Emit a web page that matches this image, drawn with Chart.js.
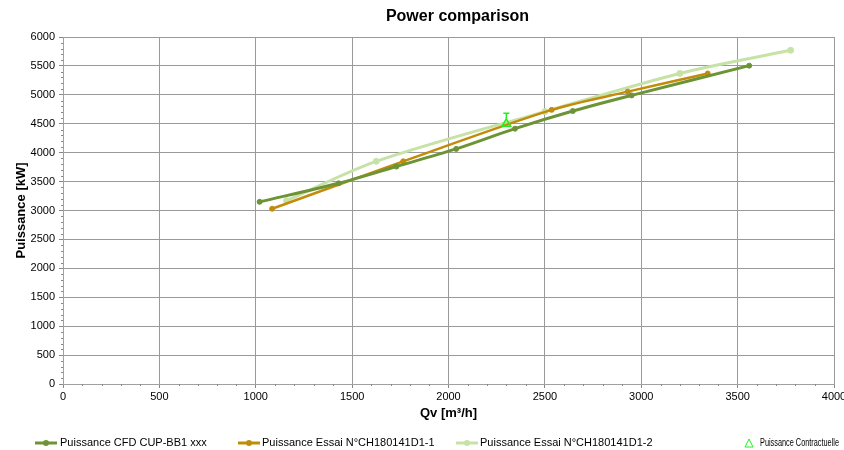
<!DOCTYPE html>
<html>
<head>
<meta charset="utf-8">
<script src="https://cdn.jsdelivr.net/npm/chart.js@4/dist/chart.umd.min.js"></script>
<style>
html,body{margin:0;padding:0;background:#fff;}
#wrap{position:relative;width:844px;height:450px;}
</style>
</head>
<body>
<div id="wrap"><canvas id="c" width="844" height="450"></canvas></div>
<script>
// ---- data ----
const cfdQv    = [1020, 1430, 1730, 2040, 2345, 2645, 2950, 3560];
const cfdP     = [3150, 3470, 3760, 4065, 4415, 4720, 4990, 5505];
const essai1Qv = [1085, 1765, 2535, 2930, 3345];
const essai1P  = [3030, 3850, 4740, 5055, 5370];
const essai2Qv = [1160, 1625, 2500, 3200, 3775];
const essai2P  = [3170, 3850, 4710, 5370, 5770];
const contrQv  = [2300];
const contrP   = [4500];
const contrErrTop = [4680];
const xTicks = [0,500,1000,1500,2000,2500,3000,3500,4000];
const yTicks = [0,500,1000,1500,2000,2500,3000,3500,4000,4500,5000,5500,6000];
const seriesNames = ['Puissance CFD CUP-BB1 xxx','Puissance Essai N°CH180141D1-1','Puissance Essai N°CH180141D1-2','Puissance Contractuelle'];

const pts = (xs, ys) => xs.map((x,i)=>({x:x,y:ys[i]}));
const FONT = '"Liberation Sans", Arial, sans-serif';

const colCFD = '#6c9436', colE1 = '#c28c0a', colE2 = '#c6e2a6', colC = '#22ee22';

const minorTicks = {
  id:'minorTicks',
  afterDraw(chart){
    const ctx = chart.ctx, xs = chart.scales.x, ys = chart.scales.y, a = chart.chartArea;
    ctx.save();
    ctx.strokeStyle = '#888'; ctx.lineWidth = 1;
    ctx.beginPath();
    for(let v=0; v<=6000; v+=100){
      if(v%500===0) continue;
      const p = Math.round(ys.getPixelForValue(v))+0.5;
      ctx.moveTo(a.left-2,p); ctx.lineTo(a.left,p);
    }
    for(let v=0; v<=4000; v+=100){
      if(v%500===0) continue;
      const p = Math.round(xs.getPixelForValue(v))+0.5;
      ctx.moveTo(p,a.bottom); ctx.lineTo(p,a.bottom+2);
    }
    ctx.stroke();
    // chart title
    ctx.fillStyle = '#000';
    ctx.font = 'bold 16px '+FONT;
    ctx.textAlign = 'center'; ctx.textBaseline = 'middle';
    ctx.fillText('Power comparison', (a.left+a.right)/2+9, 17);
    // error bar for contractual point
    const ds = chart.data.datasets[3];
    ctx.strokeStyle = colC; ctx.lineWidth = 1.5;
    ds.data.forEach((d,i)=>{
      const px = xs.getPixelForValue(d.x), py = ys.getPixelForValue(d.y), pt = ys.getPixelForValue(contrErrTop[i]);
      ctx.beginPath();
      ctx.moveTo(px,py-4); ctx.lineTo(px,pt);
      ctx.moveTo(px-3,pt); ctx.lineTo(px+3,pt);
      ctx.stroke();
    });
    // legend
    const items = [
      {x:35, tx:60, col:colCFD, tri:false},
      {x:238, tx:262, col:colE1, tri:false},
      {x:456, tx:480, col:colE2, tri:false},
      {x:745, tx:760, col:colC, tri:true, mw:79}
    ];
    const ly = 443;
    ctx.font = '11px '+FONT; ctx.textAlign='left'; ctx.textBaseline='middle';
    items.forEach((it,i)=>{
      if(it.tri){
        ctx.strokeStyle = it.col; ctx.lineWidth=1;
        ctx.beginPath();
        ctx.moveTo(it.x+4, ly-4); ctx.lineTo(it.x+8, ly+4); ctx.lineTo(it.x, ly+4); ctx.closePath();
        ctx.stroke();
      } else {
        ctx.strokeStyle = it.col; ctx.lineWidth = 3;
        ctx.beginPath(); ctx.moveTo(it.x, ly); ctx.lineTo(it.x+22, ly); ctx.stroke();
        ctx.fillStyle = it.col;
        ctx.beginPath(); ctx.arc(it.x+11, ly, 3, 0, Math.PI*2); ctx.fill();
      }
      ctx.fillStyle = '#000';
      if(it.mw) ctx.fillText(seriesNames[i], it.tx, ly, it.mw);
      else ctx.fillText(seriesNames[i], it.tx, ly);
    });
    ctx.restore();
  }
};

new Chart(document.getElementById('c'), {
  type:'scatter',
  data:{
    datasets:[
      {label:seriesNames[0], data:pts(cfdQv,cfdP), showLine:true, borderColor:colCFD, backgroundColor:colCFD, borderWidth:3, pointRadius:2.5, pointBorderWidth:1, pointHoverRadius:2.5, tension:0.3, order:1},
      {label:seriesNames[1], data:pts(essai1Qv,essai1P), showLine:true, borderColor:colE1, backgroundColor:colE1, borderWidth:2.5, pointRadius:2.5, pointBorderWidth:1, tension:0.3, order:2},
      {label:seriesNames[2], data:pts(essai2Qv,essai2P), showLine:true, borderColor:colE2, backgroundColor:colE2, borderWidth:3, pointRadius:3, pointBorderWidth:1, tension:0.3, order:3},
      {label:seriesNames[3], data:pts(contrQv,contrP), showLine:false, pointStyle:'triangle', borderColor:colC, backgroundColor:'rgba(0,0,0,0)', borderWidth:1.5, pointRadius:5, order:0}
    ]
  },
  options:{
    responsive:false, animation:false,
    layout:{padding:{left:0,right:10,top:37,bottom:26}},
    plugins:{legend:{display:false}, title:{display:false}, tooltip:{enabled:false}},
    scales:{
      x:{
        type:'linear', min:0, max:4000,
        afterBuildTicks(s){ s.ticks = xTicks.map(v=>({value:v})); },
        afterFit(s){ s.height = 40; s.paddingLeft = 0; s.paddingRight = 0; },
        grid:{color:'#9a9a9a', lineWidth:1, tickLength:4, tickColor:'#888'},
        border:{color:'#a0a0a0'},
        ticks:{color:'#000', font:{family:FONT, size:11}, padding:2, maxRotation:0, callback:v=>String(v)},
        title:{display:true, text:'Qv [m³/h]', color:'#000', font:{family:FONT, size:13, weight:'bold'}, padding:{top:0,bottom:3}}
      },
      y:{
        type:'linear', min:0, max:6000,
        afterBuildTicks(s){ s.ticks = yTicks.map(v=>({value:v})); },
        afterFit(s){ s.width = 63; },
        grid:{color:'#9a9a9a', lineWidth:1, tickLength:4, tickColor:'#888'},
        border:{color:'#a0a0a0'},
        ticks:{color:'#000', font:{family:FONT, size:11}, padding:4, callback:v=>String(v)},
        title:{display:true, text:'Puissance [kW]', color:'#000', font:{family:FONT, size:13, weight:'bold'}, padding:{top:14,bottom:0}}
      }
    }
  },
  plugins:[minorTicks]
});
</script>
</body>
</html>
